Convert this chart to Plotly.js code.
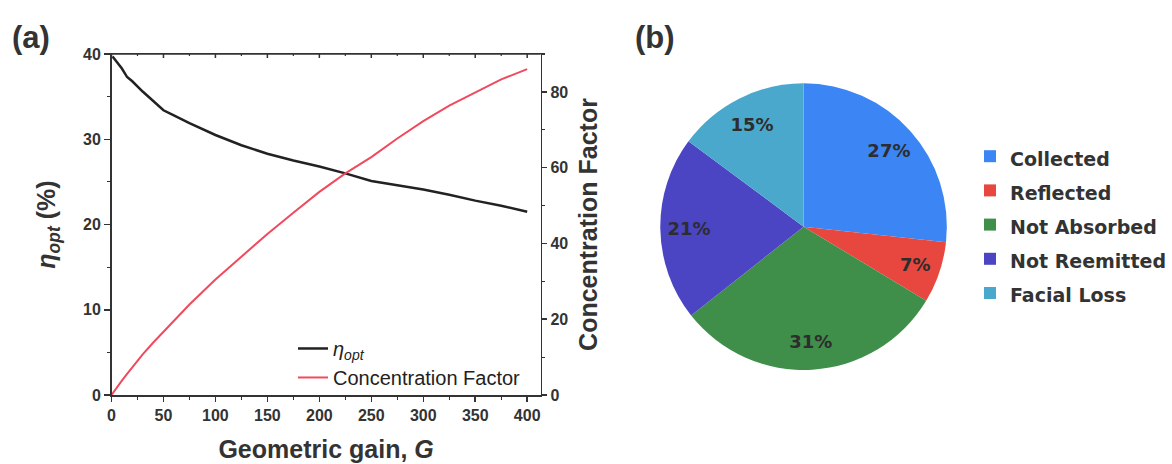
<!DOCTYPE html>
<html>
<head>
<meta charset="utf-8">
<script src="https://cdn.plot.ly/plotly-3.0.1.min.js"></script>
<style>
  html, body { margin: 0; padding: 0; background: #fff; }
  #wrap { position: relative; width: 1172px; height: 464px; }
  #panelA { position: absolute; left: 0; top: 0; width: 615px; height: 464px; }
  #panelB { position: absolute; left: 615px; top: 0; width: 557px; height: 464px; }
</style>
</head>
<body>
<div id="wrap">
  <div id="panelA"></div>
  <div id="panelB"></div>
</div>
<script>
// Panel (a): optical efficiency vs geometric gain
const gainEta = [1, 5, 10, 15, 20, 30, 40, 50, 60, 75, 100, 125, 150, 175, 200, 225, 250, 275, 300, 325, 350, 375, 400];
const etaOpt  = [39.7, 39.1, 38.3, 37.3, 36.8, 35.6, 34.5, 33.4, 32.8, 31.9, 30.5, 29.3, 28.3, 27.5, 26.8, 26.0, 25.1, 24.6, 24.1, 23.5, 22.8, 22.2, 21.5];

// Panel (a): concentration factor vs geometric gain
const gainCF     = [0, 5, 10, 15, 20, 30, 40, 50, 60, 75, 100, 125, 150, 175, 200, 225, 250, 275, 300, 325, 350, 375, 400];
const concFactor = [0, 2.0, 3.8, 5.6, 7.4, 10.7, 13.8, 16.7, 19.7, 23.9, 30.5, 36.6, 42.5, 48.1, 53.6, 58.5, 62.8, 67.7, 72.3, 76.4, 79.8, 83.3, 86.0];

// Panel (b): photon fate breakdown (%)
const fateLabels = ['Collected', 'Reflected', 'Not Absorbed', 'Not Reemitted', 'Facial Loss'];
const fateValues = [27, 7, 31, 21, 15];
const fateColors = ['#3b86f4', '#e8473f', '#3f8f4b', '#4b45c4', '#4ba8cd'];

const AX = '#333333';
const ARIAL = 'Liberation Sans, Arial, sans-serif';
const tickFont = { family: ARIAL, size: 16, color: '#333', weight: 'bold' };
const titleFont = { family: ARIAL, size: 25, color: '#333', weight: 'bold' };

// ---------- Panel (a): line chart with two y axes ----------
const WA = 615, H = 464;
const yDomain = [0.1487, 0.8836];
const plotHeightPx = H * (yDomain[1] - yDomain[0]);

// Top frame: a line along the top edge with inward ticks every 25 (longer every 50)
const frameShapes = [
  { type: 'line', layer: 'above', xref: 'x domain', yref: 'y domain', x0: 0, x1: 1, y0: 1, y1: 1,
    line: { color: AX, width: 1.5 } }
];
for (let g = 0; g <= 400; g += 25) {
  const len = (g % 50 === 0) ? 4 : 2;
  frameShapes.push({
    type: 'line', layer: 'above', xref: 'x', yref: 'y domain', x0: g, x1: g, y0: 1, y1: 1 - len / plotHeightPx,
    line: { color: AX, width: g % 50 === 0 ? 1.5 : 1.2 }
  });
}

const tracesA = [
  {
    type: 'scatter', mode: 'lines',
    x: gainEta, y: etaOpt,
    name: '<i>η</i><sub><i>opt</i></sub>',
    line: { color: '#222222', width: 2.5 },
    xaxis: 'x', yaxis: 'y'
  },
  {
    // plotted against the right y axis
    type: 'scatter', mode: 'lines',
    x: gainCF, y: concFactor,
    name: 'Concentration Factor',
    line: { color: '#f04a5e', width: 2 },
    xaxis: 'x', yaxis: 'y2'
  }
];

const layoutA = {
  width: WA, height: H,
  margin: { l: 0, r: 0, t: 0, b: 0 },
  paper_bgcolor: '#ffffff', plot_bgcolor: '#ffffff',
  showlegend: true,
  xaxis: {
    domain: [111.5 / WA, 540.7 / WA], range: [0, 413], anchor: 'y',
    showline: true, linecolor: AX, linewidth: 1.5, mirror: true,
    ticks: 'outside', ticklen: 5, tickwidth: 1.5, tickcolor: AX,
    tick0: 0, dtick: 50,
    minor: { dtick: 25, ticks: 'outside', ticklen: 3, tickwidth: 1.2, tickcolor: AX },
    showgrid: false, zeroline: false,
    tickfont: tickFont,
    title: { text: 'Geometric gain, <i>G</i>', font: titleFont, standoff: 18 }
  },
  yaxis: {
    domain: yDomain, range: [0, 40], anchor: 'x',
    showline: true, linecolor: AX, linewidth: 1.5,
    ticks: 'outside', ticklen: 6, tickwidth: 1.5, tickcolor: AX,
    tick0: 0, dtick: 10,
    minor: { dtick: 5, ticks: 'outside', ticklen: 3, tickwidth: 1.2, tickcolor: AX },
    showgrid: false, zeroline: false,
    tickfont: tickFont,
    title: { text: '<i>η</i><sub><i>opt</i></sub> (%)', font: titleFont, standoff: 20 }
  },
  yaxis2: {
    overlaying: 'y', side: 'right', anchor: 'x', range: [0, 90],
    showline: true, linecolor: AX, linewidth: 1.5,
    ticks: 'outside', ticklen: 5, tickwidth: 1.5, tickcolor: AX,
    tick0: 0, dtick: 20,
    minor: { dtick: 10, ticks: 'outside', ticklen: 3, tickwidth: 1.2, tickcolor: AX },
    showgrid: false, zeroline: false,
    tickfont: tickFont,
    title: { text: 'Concentration Factor', font: titleFont, standoff: 12 }
  },
  legend: {
    x: 293 / WA, y: 0.291, xanchor: 'left', yanchor: 'top',
    bgcolor: 'rgba(0,0,0,0)', borderwidth: 0,
    font: { family: ARIAL, size: 20, color: '#222' },
    tracegroupgap: 0
  },
  shapes: frameShapes,
  annotations: [
    { text: '(a)', xref: 'paper', yref: 'paper', x: 31 / WA, y: 1 - 37 / H,
      xanchor: 'center', yanchor: 'middle', showarrow: false,
      font: { family: ARIAL, size: 31, color: '#333', weight: 'bold' } }
  ]
};

// ---------- Panel (b): pie chart ----------
const WB = 557, OFFB = 615;
const pieDomain = { x: [(661.7 - OFFB) / WB, (957.3 - OFFB) / WB], y: [0.1918, 0.8313] };

const tracesB = [
  {
    // coloured slices with the legend
    type: 'pie',
    labels: fateLabels.map(l => '<span style="font-size:19px">' + l + '</span>'),
    values: fateValues,
    marker: { colors: fateColors, line: { width: 0 } },
    sort: false,
    direction: 'clockwise',
    rotation: 0,
    textinfo: 'none',
    domain: pieDomain,
    hoverinfo: 'label+value'
  },
  {
    // percentage labels, set in the outer ring of each slice
    type: 'pie',
    labels: fateLabels,
    values: fateValues,
    hole: 0.6,
    marker: { colors: fateLabels.map(() => 'rgba(0,0,0,0)'), line: { width: 0 } },
    sort: false,
    direction: 'clockwise',
    rotation: 0,
    texttemplate: '%{value}%',
    textposition: 'inside',
    insidetextorientation: 'horizontal',
    textfont: { family: 'DejaVu Sans, sans-serif', size: 18, color: '#2d2d2d', weight: 'bold' },
    domain: pieDomain,
    showlegend: false,
    hoverinfo: 'skip'
  }
];

const layoutB = {
  width: WB, height: H,
  margin: { l: 0, r: 0, t: 0, b: 0 },
  paper_bgcolor: 'rgba(0,0,0,0)',
  showlegend: true,
  legend: {
    x: (981.2 - OFFB) / WB, y: 0.711, xanchor: 'left', yanchor: 'top',
    bgcolor: 'rgba(0,0,0,0)', borderwidth: 0,
    font: { family: 'DejaVu Sans, sans-serif', size: 24, color: '#333', weight: 'bold' }
  },
  annotations: [
    { text: '(b)', xref: 'paper', yref: 'paper', x: (656 - OFFB) / WB, y: 1 - 37 / H,
      xanchor: 'center', yanchor: 'middle', showarrow: false,
      font: { family: ARIAL, size: 31, color: '#333', weight: 'bold' } }
  ]
};

Plotly.newPlot('panelA', tracesA, layoutA, { displayModeBar: false, staticPlot: true });
Plotly.newPlot('panelB', tracesB, layoutB, { displayModeBar: false, staticPlot: true });
</script>
</body>
</html>
